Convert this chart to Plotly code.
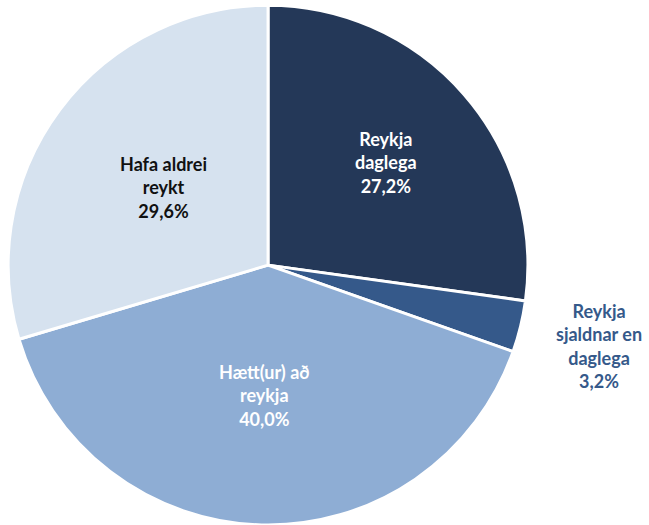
import math
import plotly.graph_objects as go

# ── Data ─────────────────────────────────────────────
labels = ["Reykja<br>daglega", "Reykja<br>sjaldnar en<br>daglega", "Hætt(ur) að<br>reykja", "Hafa aldrei<br>reykt"]
values = [27.2, 3.2, 40.0, 29.6]
colors = ["#243858", "#35598a", "#8eadd4", "#d6e2ef"]
text_colors = ["#ffffff", "#35598a", "#ffffff", "#111111"]
label_radius = [0.6, 1.31, 0.5, 0.5]  # fraction of pie radius for label placement

W, H = 649, 525
DOM_X = [0.011, 0.815]
DOM_Y = [0.0, 0.99]

fig = go.Figure(go.Pie(
    labels=labels,
    values=values,
    sort=False,
    direction="clockwise",
    rotation=0,
    marker=dict(colors=colors, line=dict(color="#ffffff", width=3)),
    textinfo="none",
    hoverinfo="label+percent",
    domain=dict(x=DOM_X, y=DOM_Y),
    showlegend=False,
))

# label positions derived from the slice mid angles
cx = (DOM_X[0] + DOM_X[1]) / 2 * W
cy = (1 - (DOM_Y[0] + DOM_Y[1]) / 2) * H
R = min((DOM_X[1] - DOM_X[0]) * W, (DOM_Y[1] - DOM_Y[0]) * H) / 2
total = sum(values)
cum = 0
for lab, v, tc, rf in zip(labels, values, text_colors, label_radius):
    mid = (cum + v / 2) / total * 2 * math.pi
    cum += v
    px_ = cx + rf * R * math.sin(mid)
    py_ = cy - rf * R * math.cos(mid)
    fig.add_annotation(
        x=px_ / W, y=1 - py_ / H, xref="paper", yref="paper",
        xanchor="center", yanchor="middle",
        text=f"<b>{lab}<br>{v:.1f}%</b>".replace(".", ","),
        showarrow=False, align="center",
        font=dict(family="Lato, sans-serif", size=18, color=tc),
    )

fig.update_layout(
    width=W, height=H,
    margin=dict(l=0, r=0, t=0, b=0),
    paper_bgcolor="#ffffff",
    plot_bgcolor="#ffffff",
)

fig.write_html("out.html", config={"displayModeBar": False},
               post_script="document.body.style.margin='0';")
